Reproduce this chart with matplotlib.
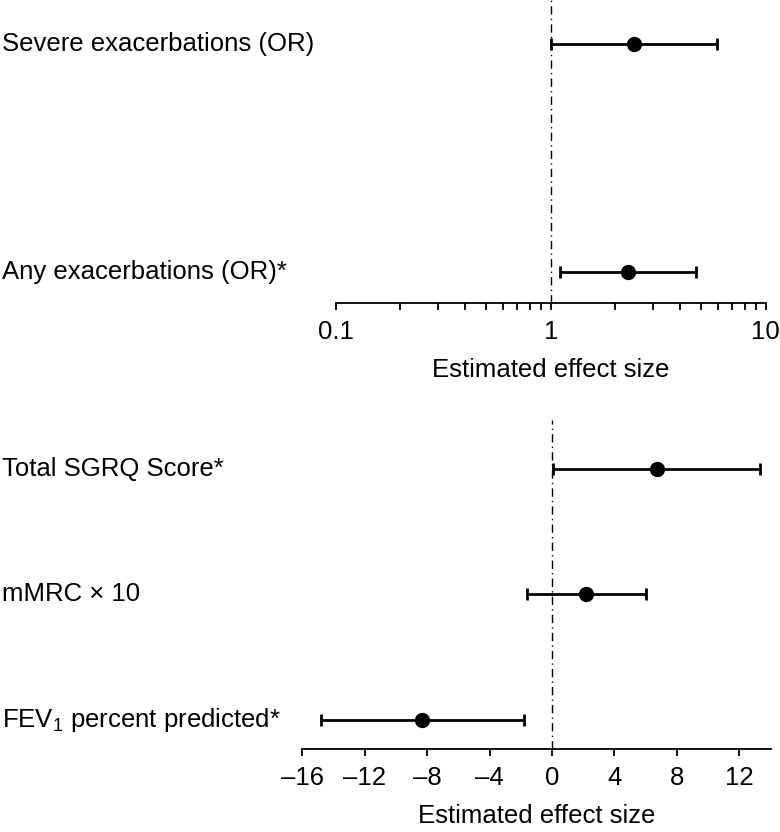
import matplotlib
matplotlib.use("Agg")
import matplotlib.pyplot as plt
import matplotlib.transforms as mtransforms
from matplotlib.ticker import FixedLocator, NullFormatter

plt.rcParams["font.family"] = ["Liberation Sans", "DejaVu Sans"]
plt.rcParams["mathtext.fontset"] = "custom"
plt.rcParams["mathtext.rm"] = "Liberation Sans"
plt.rcParams["mathtext.it"] = "Liberation Sans:italic"

# odds ratio outcomes (log scale), bottom to top
or_labels = ["Any exacerbations (OR)*", "Severe exacerbations (OR)"]
or_est = [2.29, 2.44]
or_low = [1.10, 1.0]
or_high = [4.72, 5.96]

# continuous outcomes, bottom to top
lin_labels = ["FEV$_{\\mathrm{1}}$ percent predicted*", "mMRC \u00d7 10", "Total SGRQ Score*"]
lin_est = [-8.3, 2.2, 6.7]
lin_low = [-14.8, -1.6, 0.07]
lin_high = [-1.8, 6.05, 13.3]

FS = 18.5


def forest(ax, fig, labels, est, low, high, ref):
    ys = list(range(len(est)))
    err = [[e - l for e, l in zip(est, low)], [h - e for e, h in zip(est, high)]]
    ax.errorbar(est, ys, xerr=err, fmt="o", color="black", ecolor="black",
                markersize=10, elinewidth=2, capsize=4.5, capthick=2, zorder=3)
    ax.axvline(ref, color="black", linewidth=1, linestyle=(0, (6, 3, 1, 3)), zorder=1)
    trans = mtransforms.blended_transform_factory(fig.transFigure, ax.transData)
    for y, lab in zip(ys, labels):
        ax.text(0.003, y, lab, transform=trans, ha="left", va="center", fontsize=FS)
    for s in ["top", "right", "left"]:
        ax.spines[s].set_visible(False)
    ax.spines["bottom"].set_linewidth(1.3)
    ax.set_yticks([])
    ax.tick_params(axis="x", which="both", direction="out", length=5, width=1.3,
                   labelsize=FS, pad=7)
    ax.set_xlabel("Estimated effect size", fontsize=FS, labelpad=10)


fig = plt.figure(figsize=(7.8, 8.32), dpi=100)

ax1 = fig.add_axes([335.7 / 780, 1 - 303 / 832, 430 / 780, 303 / 832])
forest(ax1, fig, or_labels, or_est, or_low, or_high, 1)
ax1.set_xscale("log")
ax1.set_xlim(0.1, 10)
ax1.set_ylim(-0.136, 1.193)
ax1.set_xticks([0.1, 1, 10])
ax1.set_xticklabels(["0.1", "1", "10"])
ax1.xaxis.set_minor_locator(FixedLocator([i * 0.1 for i in range(2, 10)] + list(range(2, 10))))
ax1.xaxis.set_minor_formatter(NullFormatter())

ax2 = fig.add_axes([302.3 / 780, 1 - 749 / 832, 469 / 780, 329 / 832])
forest(ax2, fig, lin_labels, lin_est, lin_low, lin_high, 0)
ax2.set_xlim(-16, 14.05)
ax2.set_ylim(-0.231, 2.39)
ax2.set_xticks(list(range(-16, 13, 4)))
ax2.set_xticklabels([str(t).replace("-", "\u2013") for t in range(-16, 13, 4)])

fig.savefig("out.png", dpi=100)
